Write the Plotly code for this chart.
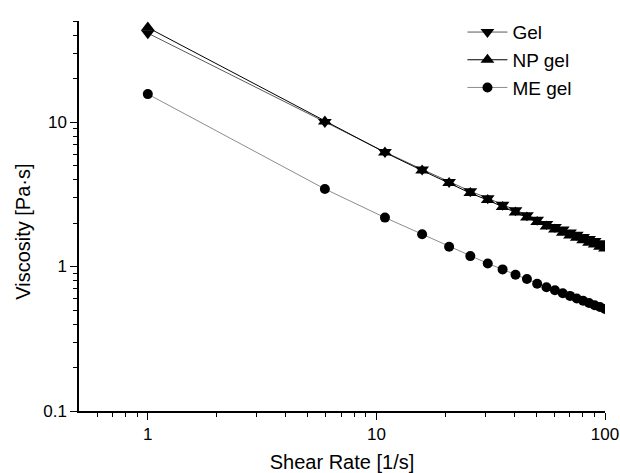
import plotly.graph_objects as go

# Shear rate steps (1/s)
shear_rate = [1, 5.95, 10.9, 15.85, 20.8, 25.75, 30.7, 35.65, 40.6, 45.55, 50.5,
              55.45, 60.4, 65.35, 70.3, 75.25, 80.2, 85.15, 90.1, 95.05, 100]

# Viscosity (Pa·s) of each formulation
gel = [41.2, 10.0, 6.20, 4.70, 3.85, 3.32, 2.97, 2.68, 2.45, 2.26, 2.11,
       1.97, 1.88, 1.80, 1.72, 1.66, 1.60, 1.55, 1.50, 1.45, 1.41]
np_gel = [45.0, 10.1, 6.15, 4.62, 3.78, 3.22, 2.88, 2.58, 2.36, 2.18, 2.03,
          1.89, 1.80, 1.71, 1.64, 1.58, 1.52, 1.46, 1.42, 1.37, 1.33]
me_gel = [15.6, 3.44, 2.18, 1.67, 1.37, 1.18, 1.05, 0.955, 0.877, 0.819, 0.759,
          0.719, 0.684, 0.653, 0.626, 0.601, 0.579, 0.559, 0.540, 0.524, 0.509]

x_ticks = [1, 10, 100]
x_ticktext = ["1", "10", "100"]
y_ticks = [0.1, 1, 10]
y_ticktext = ["0.1", "1", "10"]

FONT = "Liberation Sans, Arial, sans-serif"

fig = go.Figure()
series = [
    ("Gel", gel, "triangle-down", "#5a5a5a", 12),
    ("NP gel", np_gel, "triangle-up", "#000000", 12),
    ("ME gel", me_gel, "circle", "#8c8c8c", 10),
]
for name, vals, sym, lc, ms in series:
    fig.add_trace(go.Scatter(
        x=shear_rate, y=vals, name=name, mode="lines+markers",
        line=dict(color=lc, width=1),
        marker=dict(symbol=sym, size=ms, color="black", line=dict(width=0)),
    ))

x_minor = [m * 10 ** e for e in (-1, 0, 1) for m in range(2, 10) if 0.5 < m * 10 ** e < 100]
y_minor = [m * 10 ** e for e in (-1, 0, 1) for m in range(2, 10) if 0.1 < m * 10 ** e <= 50]

axis_common = dict(
    type="log", showgrid=False, zeroline=False, showline=True, automargin=False,
    linecolor="black", linewidth=1.5, ticks="outside", ticklen=7,
    tickwidth=1.3, tickcolor="black", tickmode="array",
    tickfont=dict(family=FONT, size=17, color="black"),
)

fig.update_xaxes(
    **axis_common, range=[-0.30103, 2],
    tickvals=x_ticks, ticktext=x_ticktext,
    minor=dict(tickmode="array", tickvals=x_minor, ticks="outside", ticklen=4,
               tickwidth=1.3, tickcolor="black", showgrid=False),
    title=dict(text="Shear Rate [1/s]", font=dict(family=FONT, size=20, color="black"),
               standoff=12),
)
fig.update_yaxes(
    **axis_common, range=[-1, 1.69897],
    tickvals=y_ticks, ticktext=y_ticktext,
    minor=dict(tickmode="array", tickvals=y_minor, ticks="outside", ticklen=4,
               tickwidth=1.3, tickcolor="black", showgrid=False),
)

# Vertical axis title, set slightly below the axis midpoint
fig.add_annotation(
    text="Viscosity [Pa·s]", textangle=-90, showarrow=False,
    xref="paper", yref="paper", x=-0.108, y=0.46, xanchor="center", yanchor="middle",
    font=dict(family=FONT, size=20, color="black"),
)

fig.update_layout(
    width=620, height=473,
    margin=dict(l=79, r=15, t=21, b=62),
    paper_bgcolor="white", plot_bgcolor="white",
    font=dict(family=FONT, color="black"),
    legend=dict(x=0.729, y=1.02, xanchor="left", yanchor="top",
                bgcolor="rgba(0,0,0,0)", borderwidth=0,
                font=dict(family=FONT, size=19, color="black"),
                tracegroupgap=0, itemwidth=40),
    showlegend=True,
)

fig.write_html("out.html")
